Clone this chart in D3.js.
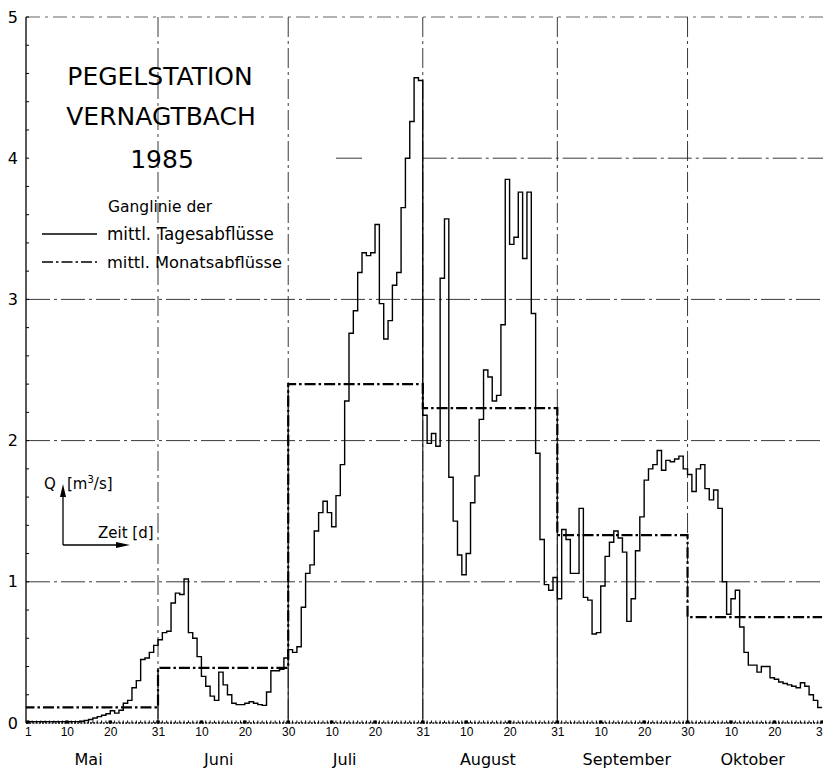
<!DOCTYPE html>
<html>
<head>
<meta charset="utf-8">
<script src="https://cdn.jsdelivr.net/npm/d3@7"></script>
<style>
  body { margin: 0; background: #fff; }
  svg { display: block; font-family: "DejaVu Sans", sans-serif; }
</style>
</head>
<body>
<svg id="chart" width="823" height="772"></svg>
<script>
// Pegelstation Vernagtbach 1985, mean daily and monthly discharge (m3/s)
const monthNames = ["Mai", "Juni", "Juli", "August", "September", "Oktober"];
const monthLengths = [31, 30, 31, 31, 30, 31];
const monthlyMean = [0.11, 0.39, 2.40, 2.23, 1.33, 0.75];

const dailyMay = [0.01, 0.01, 0.01, 0.01, 0.01, 0.01, 0.01, 0.01, 0.01, 0.01, 0.01, 0.01, 0.01,
    0.012, 0.018, 0.025, 0.035, 0.045, 0.055, 0.065, 0.087, 0.07, 0.09, 0.14, 0.16, 0.25, 0.30,
    0.45, 0.46, 0.50, 0.55];
const dailyJune = [0.59, 0.64, 0.65, 0.85, 0.92, 0.91, 1.02, 0.64, 0.60, 0.47, 0.33, 0.26, 0.19,
    0.16, 0.36, 0.27, 0.20, 0.14, 0.13, 0.13, 0.14, 0.15, 0.14, 0.13, 0.125, 0.22, 0.37, 0.37,
    0.38, 0.46];
const dailyJuly = [0.52, 0.50, 0.54, 0.82, 1.06, 1.12, 1.36, 1.49, 1.57, 1.49, 1.39, 1.61, 1.83,
    2.28, 2.76, 2.92, 3.19, 3.33, 3.31, 3.33, 3.53, 2.97, 2.72, 2.85, 3.10, 3.19, 3.65, 4.0,
    4.26, 4.57, 4.55];
const dailyAugust = [2.18, 1.98, 2.05, 1.96, 3.15, 3.57, 1.74, 1.43, 1.19, 1.05, 1.20, 1.56, 1.75,
    2.15, 2.50, 2.45, 2.28, 2.32, 2.82, 3.85, 3.39, 3.44, 3.76, 3.29, 3.76, 2.90, 1.91, 1.30,
    0.98, 0.94, 1.03];
const dailySeptember = [0.88, 1.37, 1.30, 1.06, 1.06, 1.52, 0.89, 0.87, 0.63, 0.64, 0.97, 1.18,
    1.28, 1.36, 1.31, 1.21, 0.72, 0.88, 1.22, 1.46, 1.72, 1.80, 1.83, 1.93, 1.79, 1.86, 1.85,
    1.87, 1.89, 1.80];
const dailyOctober = [1.76, 1.64, 1.80, 1.83, 1.66, 1.58, 1.65, 1.52, 1.00, 0.77, 0.88, 0.94,
    0.68, 0.50, 0.41, 0.41, 0.36, 0.40, 0.40, 0.32, 0.31, 0.29, 0.28, 0.27, 0.26, 0.25, 0.285,
    0.26, 0.20, 0.16, 0.11];

// day index counted from 1 May (=1) to 31 Oct (=184)
const dayTicks = [1, 10, 20, 31, 41, 51, 61, 71, 81, 92, 102, 112, 123, 133, 143, 153, 163, 173, 184];
const dayTickLabels = ["1", "10", "20", "31", "10", "20", "30", "10", "20", "31", "10", "20", "31",
    "10", "20", "30", "10", "20", "31"];
const monthLabelDays = [15, 45, 74, 107, 139, 168];
const yTicks = [0, 1, 2, 3, 4, 5];

const WIDTH = 823;
const AXIS_X = 26;

const svg = d3.select("#chart");
const x = d3.scaleLinear().domain([1, 184]).range([27.8, 822.1]);
const y = d3.scaleLinear().domain([0, 5]).range([723, 17]);

const daily = [].concat(dailyMay, dailyJune, dailyJuly, dailyAugust, dailySeptember, dailyOctober);
const monthEnds = Array.from(d3.cumsum(monthLengths));
const monthStarts = [0].concat(monthEnds.slice(0, -1));

svg.append("defs").append("clipPath").attr("id", "plotClip")
    .append("rect").attr("x", AXIS_X).attr("y", 0).attr("width", WIDTH - AXIS_X).attr("height", 724);

const grid = svg.append("g").attr("stroke", "#222").attr("fill", "none");
const GRID_DASH = "24,4,3,4";

// horizontal grid (line 4 is only partly printed on the original)
[1, 2, 3].forEach(function(v) {
    grid.append("line")
        .attr("x1", AXIS_X).attr("x2", WIDTH)
        .attr("y1", y(v)).attr("y2", y(v))
        .attr("stroke-width", 0.9).attr("stroke-dasharray", GRID_DASH);
});
grid.append("line")
    .attr("x1", x(92)).attr("x2", WIDTH)
    .attr("y1", y(4)).attr("y2", y(4))
    .attr("stroke-width", 0.9).attr("stroke-dasharray", GRID_DASH);
grid.append("line")
    .attr("x1", x(72)).attr("x2", x(78))
    .attr("y1", y(4)).attr("y2", y(4))
    .attr("stroke-width", 0.9);
grid.append("line")
    .attr("x1", AXIS_X).attr("x2", WIDTH)
    .attr("y1", y(5)).attr("y2", y(5))
    .attr("stroke", "#555").attr("stroke-width", 0.9).attr("stroke-dasharray", "14,5,3,5");

// vertical month boundaries: dash-dot above, solid below the step of the mean
monthEnds.slice(0, -1).forEach(function(d, i) {
    grid.append("line")
        .attr("x1", x(d)).attr("x2", x(d))
        .attr("y1", y(5)).attr("y2", y(0))
        .attr("stroke-width", 0.9).attr("stroke-dasharray", "20,4,3,4");
    const a = monthlyMean[i], b = monthlyMean[i + 1];
    const solidTop = i === 4 ? Math.min(a, b) : Math.max(a, b);
    grid.append("line")
        .attr("x1", x(d)).attr("x2", x(d))
        .attr("y1", y(solidTop)).attr("y2", y(0))
        .attr("stroke-width", 1.2);
});

// y axis
const yAxis = svg.append("g").attr("transform", "translate(" + AXIS_X + ",0)")
    .call(d3.axisLeft(y).tickValues(yTicks).tickSize(0).tickPadding(8).tickFormat(d3.format("d")));
yAxis.select(".domain").remove();
yAxis.selectAll("text").attr("font-size", 16).attr("font-family", "DejaVu Sans").attr("fill", "#000");

svg.append("line")
    .attr("x1", AXIS_X).attr("x2", AXIS_X)
    .attr("y1", y(5)).attr("y2", y(0))
    .attr("stroke", "#000").attr("stroke-width", 1.3);
svg.append("g").selectAll("line")
    .data(d3.range(0, 26).map(function(i) { return i * 0.2; }))
    .join("line")
    .attr("x1", AXIS_X).attr("x2", AXIS_X + 3)
    .attr("y1", function(d) { return y(d); }).attr("y2", function(d) { return y(d); })
    .attr("stroke", "#000").attr("stroke-width", 1);

// x axis
svg.append("line")
    .attr("x1", AXIS_X).attr("x2", WIDTH)
    .attr("y1", y(0)).attr("y2", y(0))
    .attr("stroke", "#000").attr("stroke-width", 1.4).attr("stroke-dasharray", "2,1.2");
svg.append("g").selectAll("line")
    .data(d3.range(1, 185))
    .join("line")
    .attr("x1", function(d) { return x(d); }).attr("x2", function(d) { return x(d); })
    .attr("y1", y(0)).attr("y2", y(0) - 2.5)
    .attr("stroke", "#000").attr("stroke-width", 1);
svg.append("g").selectAll("rect")
    .data(dayTicks)
    .join("rect")
    .attr("x", function(d) { return x(d) - 1.8; }).attr("y", y(0) - 2.5)
    .attr("width", 3.6).attr("height", 3).attr("fill", "#000");

const xAxis = svg.append("g").attr("transform", "translate(0," + y(0) + ")")
    .call(d3.axisBottom(x).tickValues(dayTicks).tickSize(0).tickPadding(4)
        .tickFormat(function(d, i) { return dayTickLabels[i]; }));
xAxis.select(".domain").remove();
xAxis.selectAll("text").attr("font-size", 12).attr("font-family", "Liberation Sans").attr("fill", "#000");

svg.append("g").selectAll("text")
    .data(monthNames)
    .join("text")
    .attr("x", function(d, i) { return x(monthLabelDays[i]); })
    .attr("y", 765)
    .attr("text-anchor", "middle")
    .attr("font-size", 16)
    .text(function(d) { return d; });

const plot = svg.append("g").attr("clip-path", "url(#plotClip)");

// monthly mean (dash-dot)
const meanPts = monthlyMean.map(function(v, i) { return [x(monthStarts[i]), y(v)]; });
meanPts.push([x(184), y(monthlyMean[monthlyMean.length - 1])]);
plot.append("path")
    .attr("d", d3.line().curve(d3.curveStepAfter)(meanPts))
    .attr("fill", "none").attr("stroke", "#000")
    .attr("stroke-width", 2.2).attr("stroke-dasharray", "11,3,2.5,3");

// daily means (solid step line)
const dailyPts = daily.map(function(v, i) { return [x(i), y(v)]; });
dailyPts.push([x(184), y(daily[daily.length - 1])]);
plot.append("path")
    .attr("d", d3.line().curve(d3.curveStepAfter)(dailyPts))
    .attr("fill", "none").attr("stroke", "#000")
    .attr("stroke-width", 1.4).attr("stroke-linejoin", "miter");

// title and legend
const title = svg.append("g").attr("text-anchor", "middle").attr("font-size", 25);
title.append("text").attr("x", 160).attr("y", 85).text("PEGELSTATION");
title.append("text").attr("x", 161).attr("y", 125).text("VERNAGTBACH");
title.append("text").attr("x", 162).attr("y", 168).text("1985");

svg.append("text").attr("x", 108).attr("y", 212).attr("font-size", 15.5).text("Ganglinie der");
svg.append("text").attr("x", 107).attr("y", 240).attr("font-size", 16.8).text("mittl. Tagesabflüsse");
svg.append("text").attr("x", 107).attr("y", 268).attr("font-size", 16.3).text("mittl. Monatsabflüsse");
svg.append("line").attr("x1", 42).attr("x2", 97).attr("y1", 234).attr("y2", 234)
    .attr("stroke", "#000").attr("stroke-width", 1.5);
svg.append("line").attr("x1", 42).attr("x2", 97).attr("y1", 262).attr("y2", 262)
    .attr("stroke", "#000").attr("stroke-width", 1.5).attr("stroke-dasharray", "11,3,2.5,3");

// axis hint arrows
const hint = svg.append("g");
hint.append("line").attr("x1", 63).attr("x2", 63).attr("y1", 545).attr("y2", 492)
    .attr("stroke", "#000").attr("stroke-width", 1.3);
hint.append("path").attr("d", "M63,484 L60,497 L66,497 Z").attr("fill", "#000");
hint.append("line").attr("x1", 63).attr("x2", 122).attr("y1", 545).attr("y2", 545)
    .attr("stroke", "#000").attr("stroke-width", 1.3);
hint.append("path").attr("d", "M130,545 L116,542 L116,548 Z").attr("fill", "#000");
hint.append("text").attr("x", 44).attr("y", 489).attr("font-size", 15).text("Q");
const unit = hint.append("text").attr("x", 67).attr("y", 489).attr("font-size", 15);
unit.append("tspan").text("[m");
unit.append("tspan").attr("font-size", 10).attr("dy", -6).text("3");
unit.append("tspan").attr("dy", 6).text("/s]");
hint.append("text").attr("x", 98).attr("y", 538).attr("font-size", 15).text("Zeit [d]");
</script>
</body>
</html>
